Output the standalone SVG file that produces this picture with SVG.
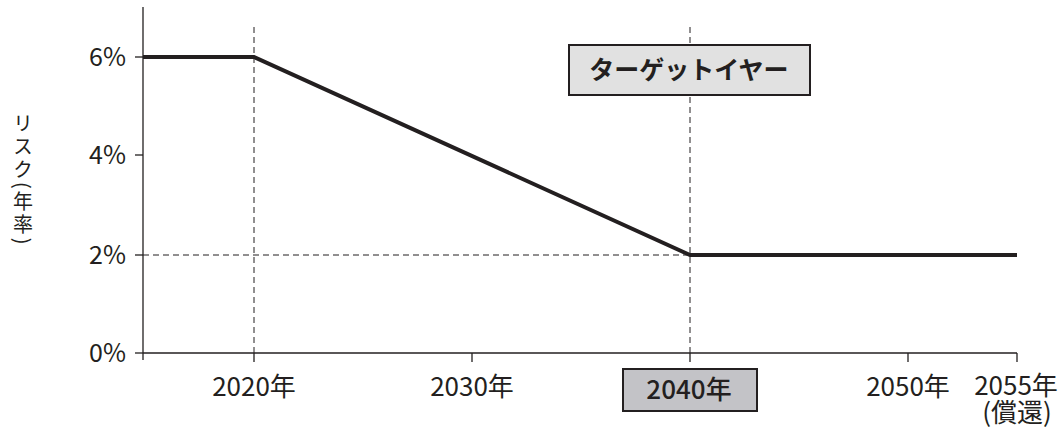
<svg xmlns="http://www.w3.org/2000/svg" width="1063" height="429" viewBox="0 0 1063 429">
<style>
.lbl{font-family:"Noto Sans CJK JP","Noto Sans",sans-serif;font-size:26px;fill:#231f20}
.yl{font-size:25px}
.tt{font-family:"Noto Sans CJK JP","Noto Sans",sans-serif;font-size:20px;fill:#231f20}
.ax{stroke:#231f20;stroke-width:1.3;fill:none}
.dash{stroke:#231f20;stroke-width:1;stroke-dasharray:6,4;fill:none}
.bold{font-family:"Noto Sans CJK JP","Noto Sans",sans-serif;fill:#231f20}
</style>
<rect width="1063" height="429" fill="#fff"/>
<g id="grid">
<line class="dash" x1="254" y1="27" x2="254" y2="353"/>
<line class="dash" x1="690" y1="27" x2="690" y2="353"/>
<line class="dash" x1="143" y1="255" x2="690" y2="255"/>
</g>
<g id="axes">
<line class="ax" x1="143" y1="7" x2="143" y2="360"/>
<line class="ax" x1="143" y1="353" x2="1017" y2="353"/>
<line class="ax" x1="135" y1="57" x2="143" y2="57"/>
<line class="ax" x1="135" y1="155" x2="143" y2="155"/>
<line class="ax" x1="135" y1="255" x2="143" y2="255"/>
<line class="ax" x1="135" y1="353" x2="143" y2="353"/>
<line class="ax" x1="254" y1="353" x2="254" y2="362"/>
<line class="ax" x1="472" y1="353" x2="472" y2="362"/>
<line class="ax" x1="690" y1="353" x2="690" y2="362"/>
<line class="ax" x1="908" y1="353" x2="908" y2="362"/>
<line class="ax" x1="1017" y1="353" x2="1017" y2="362"/>
</g>
<g id="series">
<polyline points="143,57 254,57 690,255 1017,255" fill="none" stroke="#231f20" stroke-width="4" stroke-linejoin="miter"/>
</g>
<g id="ylabels" text-anchor="end">
<text x="126" y="66" class="lbl yl">6%</text>
<text x="126" y="164" class="lbl yl">4%</text>
<text x="126" y="264" class="lbl yl">2%</text>
<text x="126" y="362" class="lbl yl">0%</text>
</g>
<g id="xlabels" text-anchor="middle">
<text x="254" y="396" class="lbl">2020年</text>
<text x="472" y="396" class="lbl">2030年</text>
<text x="908" y="396" class="lbl">2050年</text>
<text x="1016" y="395" class="lbl">2055年</text>
<text x="1017" y="422" class="lbl" font-size="20">(償還)</text>
</g>
<g id="ytitle">
<text x="23" y="113" class="tt" letter-spacing="3" style="writing-mode:vertical-rl">リスク(年率)</text>
</g>
<g id="target-box">
<rect x="569" y="45" width="241" height="50" fill="#e1e1e1" stroke="#231f20" stroke-width="2"/>
<text x="689" y="79" class="bold" font-weight="bold" font-size="25" text-anchor="middle">ターゲットイヤー</text>
</g>
<g id="year-box">
<rect x="623" y="369" width="134" height="42" fill="#c3c3c7" stroke="#231f20" stroke-width="2"/>
<text x="689" y="399" class="bold" font-weight="500" font-size="26" text-anchor="middle">2040年</text>
</g>
</svg>
